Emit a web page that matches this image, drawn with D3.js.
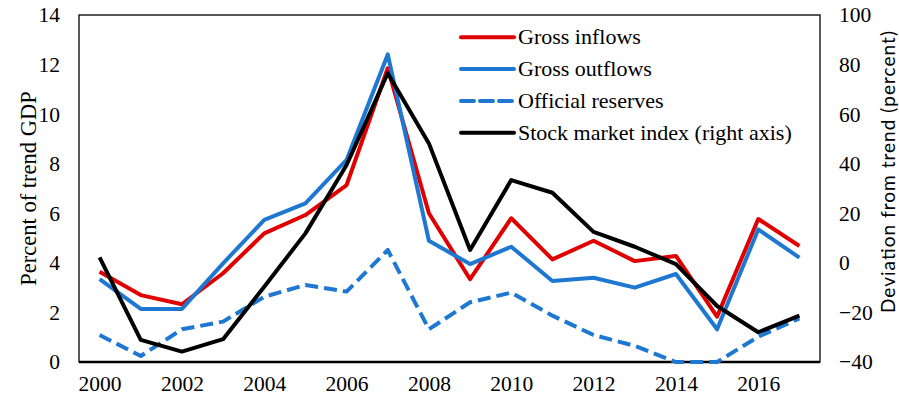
<!DOCTYPE html>
<html>
<head>
<meta charset="utf-8">
<script src="https://cdn.jsdelivr.net/npm/d3@7"></script>
<style>
  html, body { margin: 0; padding: 0; background: #fff; }
  svg { display: block; }
</style>
</head>
<body>
<svg id="chart" width="899" height="403"></svg>
<script>
const years = [2000,2001,2002,2003,2004,2005,2006,2007,2008,2009,2010,2011,2012,2013,2014,2015,2016,2017];
const grossInflows = [3.64,2.70,2.33,3.58,5.19,5.93,7.14,11.85,6.00,3.34,5.80,4.14,4.89,4.07,4.28,1.83,5.77,4.68];
const grossOutflows = [3.34,2.14,2.14,3.98,5.73,6.40,8.15,12.41,4.89,3.95,4.65,3.27,3.40,3.00,3.55,1.32,5.35,4.21];
const officialReserves = [1.09,0.24,1.32,1.63,2.63,3.11,2.84,4.52,1.32,2.41,2.80,1.87,1.09,0.65,0.00,0.00,1.02,1.76];
const stockIndex = [2.2,-31.1,-35.8,-30.8,-9.6,11.9,39.5,76.5,48.2,5.2,33.4,28.3,12.5,6.5,-0.5,-17.4,-28.0,-21.3];
const leftTicks = [0,2,4,6,8,10,12,14];
const rightTicks = [-40,-20,0,20,40,60,80,100];
const xTickLabels = [2000,2002,2004,2006,2008,2010,2012,2014,2016];
const legendLabels = ["Gross inflows","Gross outflows","Official reserves","Stock market index (right axis)"];

const RED = "#E00000", BLUE = "#1E78D2", BLACK = "#000000";
const serif = "'Liberation Serif','Times New Roman',serif";

const svg = d3.select("#chart");
const L = 79, R = 820, T = 15, B = 362;

const x = d3.scalePoint().domain(years).range([L, R]).padding(0.5);
const yL = d3.scaleLinear().domain([0, 14]).range([B, T]);
const yR = d3.scaleLinear().domain([-40, 100]).range([B, T]);

// frame
svg.append("rect").attr("x", L).attr("y", T).attr("width", R - L).attr("height", B - T)
  .attr("fill", "none").attr("stroke", "#000").attr("stroke-width", 1.3);

// left axis
const gL = svg.append("g").attr("transform", `translate(${L},0)`)
  .call(d3.axisLeft(yL).tickValues(leftTicks).tickSize(0).tickPadding(19));
gL.select(".domain").remove();
gL.selectAll("text").attr("font-family", serif).attr("font-size", "21.5px").attr("fill", "#000");

// right axis
const gR = svg.append("g").attr("transform", `translate(${R},0)`)
  .call(d3.axisRight(yR).tickValues(rightTicks).tickSize(0).tickPadding(19));
gR.select(".domain").remove();
gR.selectAll("text").attr("font-family", serif).attr("font-size", "21.5px").attr("fill", "#000");

// bottom axis
const gB = svg.append("g").attr("transform", `translate(0,${B})`)
  .call(d3.axisBottom(x).tickValues(xTickLabels).tickSize(0).tickPadding(14).tickFormat(d3.format("d")));
gB.select(".domain").attr("stroke", "#000").attr("stroke-width", 2.5).attr("d", `M${L},0H${R}`);
gB.selectAll("text").attr("font-family", serif).attr("font-size", "21.5px").attr("fill", "#000");

// axis titles
svg.append("text").attr("transform", `translate(28,${(T + B) / 2}) rotate(-90)`)
  .attr("text-anchor", "middle").attr("dominant-baseline", "central")
  .attr("font-family", serif).attr("font-size", "22.5px").text("Percent of trend GDP");
svg.append("text").attr("transform", `translate(887,172) rotate(-90)`)
  .attr("text-anchor", "middle").attr("dominant-baseline", "central")
  .attr("font-family", "Lato, 'Open Sans', sans-serif").attr("font-size", "19px")
  .attr("textLength", 282).attr("lengthAdjust", "spacing")
  .text("Deviation from trend (percent)");

// lines
const lineL = d3.line().x((d, i) => x(years[i])).y(d => yL(d));
const lineR = d3.line().x((d, i) => x(years[i])).y(d => yR(d));

const series = [
  { data: officialReserves, gen: lineL, color: BLUE, dash: "13,6" },
  { data: grossInflows, gen: lineL, color: RED, dash: null },
  { data: grossOutflows, gen: lineL, color: BLUE, dash: null },
  { data: stockIndex, gen: lineR, color: BLACK, dash: null }
];
series.forEach(s => {
  svg.append("path").attr("d", s.gen(s.data)).attr("fill", "none")
    .attr("stroke", s.color).attr("stroke-width", 4).attr("stroke-linejoin", "round")
    .attr("stroke-dasharray", s.dash);
});

// legend
const legendStyles = [
  { color: RED, dash: null },
  { color: BLUE, dash: null },
  { color: BLUE, dash: "13,6" },
  { color: BLACK, dash: null }
];
const lg = svg.append("g");
legendLabels.forEach((lab, i) => {
  const yy = 37.3 + i * 31.8;
  lg.append("line").attr("x1", 461).attr("x2", 514).attr("y1", yy).attr("y2", yy)
    .attr("stroke", legendStyles[i].color).attr("stroke-width", 4)
    .attr("stroke-linecap", "round").attr("stroke-dasharray", legendStyles[i].dash);
  lg.append("text").attr("x", 518).attr("y", yy + 7).attr("font-family", serif)
    .attr("font-size", "22px").text(lab);
});
</script>
</body>
</html>
